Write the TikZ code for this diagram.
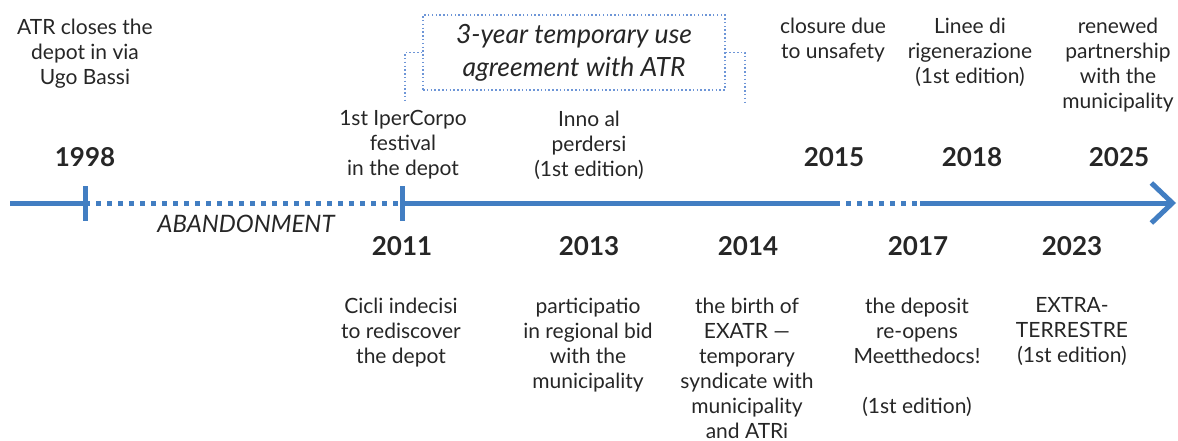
\documentclass[tikz,border=0pt]{standalone}
\usepackage{fontspec}
\setmainfont{Lato}
\usetikzlibrary{arrows.meta}

\definecolor{lineblue}{RGB}{66,126,194}
\definecolor{dotblue}{RGB}{110,150,215}
\definecolor{txtgray}{RGB}{38,38,38}

\begin{document}
\begin{tikzpicture}[x=1pt,y=-1pt,
  event/.style={align=center,text=txtgray,inner sep=0pt,anchor=north,
    font=\fontsize{21}{25}\selectfont},
  yearlbl/.style={text=txtgray,inner sep=0pt,anchor=base,
    font=\fontsize{26}{30}\selectfont\bfseries},
  axis/.style={lineblue,line width=5pt},
  dotaxis/.style={lineblue,line width=5pt,dash pattern=on 5pt off 6pt},
  tick/.style={lineblue,line width=5pt},
  boxdot/.style={dotblue,line width=1.3pt,dash pattern=on 1.5pt off 2.3pt}]

\useasboundingbox (0,0) rectangle (1178,441);

% Timeline points
\coordinate (start) at (10,203);
\coordinate (y98) at (85,203);
\coordinate (y11) at (402,203);
\coordinate (cut) at (835,203);
\coordinate (reopen) at (920,203);
\coordinate (tip) at (1176,203);

% Axis
\draw[axis] (start) -- (y98);
\draw[dotaxis] (y98) -- (y11);
\draw[axis] (y11) -- (cut);
\draw[dotaxis] (cut) -- (reopen);
\draw[axis,-{Straight Barb[length=21pt,width=40pt]}] (reopen) -- (tip);

% Ticks
\draw[tick] (85,186) -- (85,221);
\draw[tick] (402,186) -- (402,221);

% Years
\node[yearlbl] (t1998) at (85,167) {1998};
\node[yearlbl] (t2011) at (402,255) {2011};
\node[yearlbl] (t2013) at (589,255) {2013};
\node[yearlbl] (t2014) at (748,255) {2014};
\node[yearlbl] (t2015) at (834,167) {2015};
\node[yearlbl] (t2017) at (918,255) {2017};
\node[yearlbl] (t2018) at (972,167) {2018};
\node[yearlbl] (t2023) at (1072,255) {2023};
\node[yearlbl] (t2025) at (1119,167) {2025};

\node[text=txtgray,inner sep=0pt,anchor=base,font=\fontsize{24}{28}\selectfont\itshape]
  (abandon) at (246,232) {ABANDONMENT};

% Events above the line
\node[event] (closes) at (85,18.5) {ATR closes the\\depot in via\\Ugo Bassi};
\node[event] (festival) at (403,110.5) {1st IperCorpo\\festival\\in the depot};
\node[event] (inno) at (589,110.5) {Inno al\\perdersi\\(1st edition)};
\node[event] (closure) at (833,17.5) {closure due\\to unsafety};
\node[event] (linee) at (970,17.5) {Linee di\\rigenerazione\\(1st edition)};
\node[event] (renewed) at (1118,17.5) {renewed\\partnership\\with the\\municipality};

% Events below the line
\node[event] (cicli) at (401,297.5) {Cicli indecisi\\to rediscover\\the depot};
\node[event] (bid) at (588,297.5) {participatio\\in regional bid\\with the\\municipality};
\node[event] (exatr) at (747,297.5) {the birth of\\EXATR —\\temporary\\syndicate with\\municipality\\and ATRi};
\node[event] (deposit) at (917,297.5) {the deposit\\re-opens\\Meetthedocs!\\ \\(1st edition)};
\node[event] (extra) at (1072,297.5) {EXTRA-\\TERRESTRE\\(1st edition)};

% Temporary use agreement
\node[boxdot,draw,minimum width=302pt,minimum height=75pt,align=center,
  text=txtgray,font=\fontsize{26.5}{33}\selectfont\itshape]
  (agree) at (574,52.5) {3-year temporary use\\agreement with ATR};
\coordinate (brl) at (405,103);
\coordinate (brr) at (745,103);
\draw[boxdot] (agree.west) -| (brl);
\draw[boxdot] (agree.east) -| (brr);

\end{tikzpicture}
\end{document}
